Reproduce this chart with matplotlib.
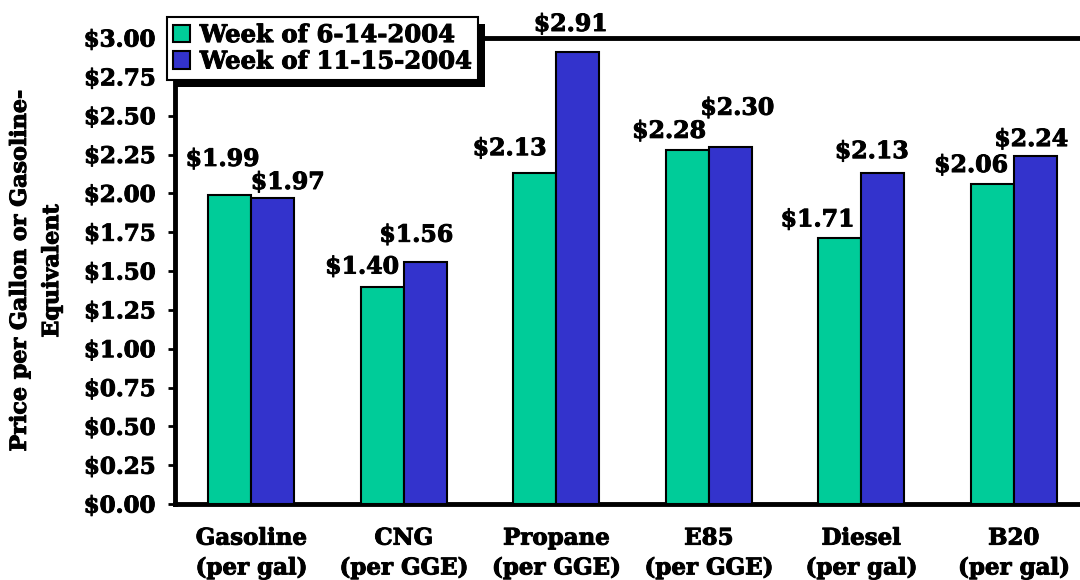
import matplotlib
matplotlib.use('Agg')
import matplotlib.pyplot as plt
import matplotlib.patheffects as pe
import numpy as np
from matplotlib.patches import Rectangle
from matplotlib.transforms import IdentityTransform

fuels = ["Gasoline\n(per gal)", "CNG\n(per GGE)", "Propane\n(per GGE)",
         "E85\n(per GGE)", "Diesel\n(per gal)", "B20\n(per gal)"]
june_prices = [1.99, 1.40, 2.13, 2.28, 1.71, 2.06]
nov_prices = [1.97, 1.56, 2.91, 2.30, 2.13, 2.24]
series_names = ["Week of 6-14-2004", "Week of 11-15-2004"]
y_ticks = np.arange(0, 3.01, 0.25)

# label nudges (pixels) relative to bar top centre, as placed in the original
june_offsets = [(-7, 36), (-20, 20), (-25, 25), (-18, 19), (-22, 19), (-21, 19)]
nov_offsets = [(15, 16), (-9, 27), (-7, 28), (7, 39), (-11, 22), (-4, 17)]

green = "#00CC99"
blue = "#3333CC"

plt.rcParams['font.family'] = ['DejaVu Serif']
plt.rcParams['font.weight'] = 'bold'
heavy = [pe.withStroke(linewidth=0.7, foreground='black')]

fig = plt.figure(figsize=(10.8, 5.8), dpi=100)
ax = fig.add_axes([175 / 1080, 1 - 504 / 580, (1090 - 175) / 1080, (504 - 38) / 580])

x = np.arange(len(fuels))
w = 0.283
ax.bar(x - w / 2, june_prices, w, color=green, edgecolor='black', linewidth=1.5,
       label=series_names[0], zorder=3)
ax.bar(x + w / 2, nov_prices, w, color=blue, edgecolor='black', linewidth=1.5,
       label=series_names[1], zorder=3)

for xi, v, off in zip(x - w / 2, june_prices, june_offsets):
    ax.annotate(f"${v:.2f}", (xi, v), xytext=off, textcoords='offset pixels',
                ha='center', va='center', fontsize=17, fontweight='bold',
                annotation_clip=False, zorder=6, path_effects=heavy)
for xi, v, off in zip(x + w / 2, nov_prices, nov_offsets):
    ax.annotate(f"${v:.2f}", (xi, v), xytext=off, textcoords='offset pixels',
                ha='center', va='center', fontsize=17, fontweight='bold',
                annotation_clip=False, zorder=6, path_effects=heavy)

ax.set_xlim(-0.5, 5.5)
ax.set_ylim(0, 3.0)
ax.set_yticks(y_ticks)
ax.set_yticklabels([f"${t:.2f}" for t in y_ticks], fontsize=16.5, fontweight='bold')
ax.set_xticks(x)
ax.set_xticklabels(fuels, fontsize=16.5, fontweight='bold', linespacing=1.45)
for lbl in ax.get_xticklabels() + ax.get_yticklabels():
    lbl.set_path_effects(heavy)
ax.tick_params(axis='x', length=0, pad=17)
ax.tick_params(axis='y', length=5, width=2, direction='out', pad=9)

for side in ['left', 'bottom', 'top']:
    ax.spines[side].set_linewidth(3.5)
ax.spines['right'].set_visible(False)

fig.text(36 / 1080, 1 - 271 / 580, "Price per Gallon or Gasoline-\nEquivalent",
         rotation=90, ha='center', va='center', fontsize=16, fontweight='bold',
         multialignment='center', linespacing=1.6, path_effects=heavy)

leg = ax.legend(loc='upper left', bbox_to_anchor=(167 / 1080, 1 - 17 / 580),
                bbox_transform=fig.transFigure, borderaxespad=0, fancybox=False,
                edgecolor='black', framealpha=1, fontsize=17.5, handlelength=0.7,
                handleheight=0.7, handletextpad=0.4, borderpad=0.25, labelspacing=0.1)
leg.get_frame().set_linewidth(1.5)
leg.set_zorder(10)
for t in leg.get_texts():
    t.set_path_effects(heavy)

# solid black drop shadow behind the legend box
fig.canvas.draw()
bb = leg.get_window_extent()
shadow = Rectangle((bb.x0 + 7, bb.y0 - 7), bb.width, bb.height, transform=IdentityTransform(),
                   facecolor='black', edgecolor='none', zorder=9, clip_on=False)
ax.add_artist(shadow)

fig.savefig("out.png", dpi=100)
